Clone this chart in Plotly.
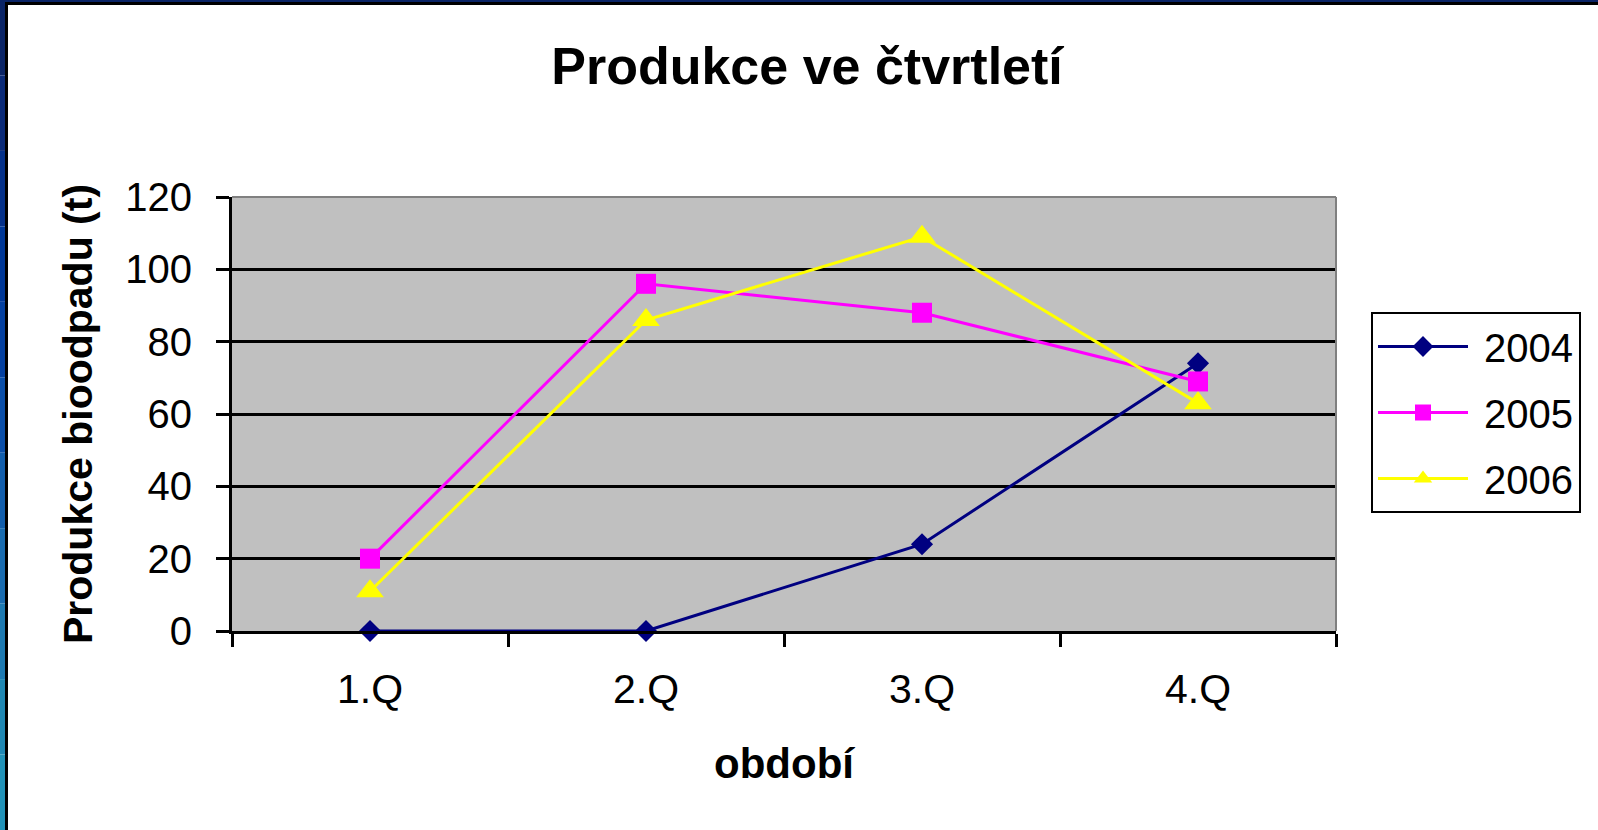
import plotly.graph_objects as go

# quarterly production of bio-waste (t)
quarters = ["1.Q", "2.Q", "3.Q", "4.Q"]
years = ["2004", "2005", "2006"]
v2004 = [0, 0, 24, 74]
v2005 = [20, 96, 88, 69]
v2006 = [11, 86, 109, 63]

series_values = [v2004, v2005, v2006]
colors = ["#000080", "#FF00FF", "#FFFF00"]
symbols = ["diamond", "square", "triangle-up"]
sizes = [17, 20, 24]

W, H = 1598, 830
L, R, T, B = 232, 262, 197, 199
pw, ph = W - L - R, H - T - B

def px_x(x):
    return (x - L) / pw

def px_y(y):
    return (H - B - y) / ph

font = "Liberation Sans, Arial, sans-serif"

fig = go.Figure()
for name, vals, c, sym, s in zip(years, series_values, colors, symbols, sizes):
    fig.add_trace(go.Scatter(
        x = quarters, y = vals, name = " " + name, mode = "lines+markers",
        legendgroup = name,
        line = dict(color = c, width = 3),
        marker = dict(symbol = sym, size = s, color = c, line = dict(width = 0)),
        cliponaxis = False
    ))

# slide frame in the top-left corner (blue band + black edge)
shapes = []
band_cols = ["#0a2466", "#0a2a78", "#05318a", "#003898", "#0440a0", "#0a4ea8",
             "#125eac", "#1a6cb0", "#1e7ab2", "#2088b4", "#2292b8"]
n = len(band_cols)
for i, col in enumerate(band_cols):
    shapes.append(dict(type = "rect", xref = "paper", yref = "paper",
                       x0 = px_x(0), x1 = px_x(5),
                       y0 = px_y(H * (i + 1) / n), y1 = px_y(H * i / n),
                       fillcolor = col, line = dict(width = 0), layer = "above"))
shapes.append(dict(type = "rect", xref = "paper", yref = "paper",
                   x0 = px_x(0), x1 = px_x(W), y0 = px_y(2), y1 = px_y(0),
                   fillcolor = "#0a2466", line = dict(width = 0)))
shapes.append(dict(type = "rect", xref = "paper", yref = "paper",
                   x0 = px_x(5), x1 = px_x(W), y0 = px_y(5), y1 = px_y(2),
                   fillcolor = "black", line = dict(width = 0)))
shapes.append(dict(type = "rect", xref = "paper", yref = "paper",
                   x0 = px_x(5), x1 = px_x(8), y0 = px_y(H), y1 = px_y(2),
                   fillcolor = "black", line = dict(width = 0)))
# grey plot-area border (top and right)
shapes.append(dict(type = "line", xref = "paper", yref = "paper",
                   x0 = 0, x1 = 1, y0 = 1, y1 = 1, line = dict(color = "#808080", width = 2)))
shapes.append(dict(type = "line", xref = "paper", yref = "paper",
                   x0 = 1, x1 = 1, y0 = 0, y1 = 1, line = dict(color = "#808080", width = 2)))

fig.update_layout(
    width = W, height = H,
    margin = dict(l = L, r = R, t = T, b = B, autoexpand = False),
    paper_bgcolor = "white",
    plot_bgcolor = "#C0C0C0",
    font = dict(family = font, size = 40, color = "black"),
    title = dict(text = "<b>Produkce ve čtvrtletí</b>", font = dict(size = 52),
                 x = 807 / W, xanchor = "center", xref = "container",
                 y = 1 - 66 / H, yanchor = "middle", yref = "container"),
    showlegend = True,
    legend = dict(x = px_x(1371), y = px_y(312), xanchor = "left", yanchor = "top",
                  bordercolor = "black", borderwidth = 2, bgcolor = "white",
                  font = dict(size = 40), itemwidth = 90, tracegroupgap = 11),
    shapes = shapes
)

fig.update_xaxes(
    type = "category", range = [-0.5, 3.5], tickson = "boundaries", showgrid = False,
    showline = True, linecolor = "black", linewidth = 3,
    ticks = "outside", ticklen = 13, tickwidth = 2.5, tickcolor = "black",
    ticklabelstandoff = 20, tickfont = dict(size = 41),
    title = dict(text = "<b>období</b>", font = dict(size = 42), standoff = 38)
)
fig.update_yaxes(
    range = [0, 120], dtick = 20, showgrid = True, gridcolor = "black", gridwidth = 2.5,
    zeroline = False, showline = True, linecolor = "black", linewidth = 3,
    ticks = "outside", ticklen = 13, tickwidth = 2.5, tickcolor = "black",
    ticklabelstandoff = 16,
    title = dict(text = "<b>Produkce bioodpadu (t)</b>", font = dict(size = 41), standoff = 20)
)

fig.write_html("out.html", config = {"displayModeBar": False},
               post_script = "document.body.style.margin = '0';")
